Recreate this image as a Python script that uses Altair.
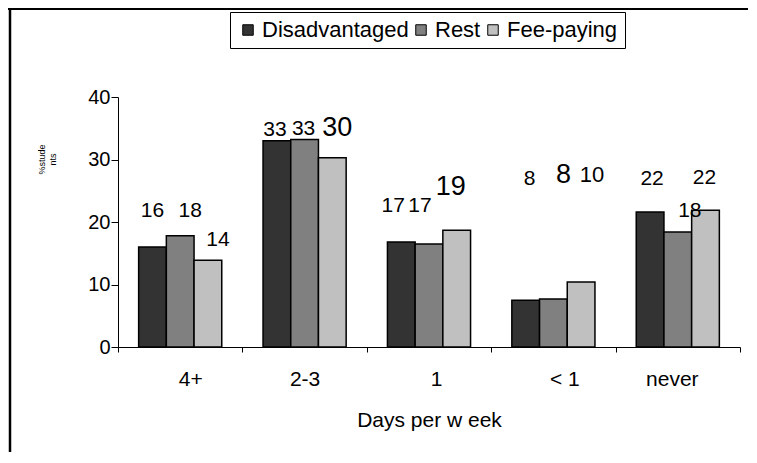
import altair as alt
import pandas as pd

# ---- data ----
categories = ["4+", "2-3", "1", "< 1", "never"]
series = ["Disadvantaged", "Rest", "Fee-paying"]
disadvantaged = [16.0, 33.0, 16.8, 7.5, 21.6]
rest = [17.8, 33.2, 16.5, 7.7, 18.4]
fee_paying = [13.9, 30.3, 18.7, 10.4, 21.9]
y_ticks = [0, 10, 20, 30, 40]

colors = ["#333333", "#808080", "#c0c0c0"]
FONT = "Liberation Sans"

# label placement style (dx, dy in px relative to bar top; font size)
LABEL_STYLE = {
    ("4+", "Disadvantaged"): (0, -36, 21),
    ("4+", "Rest"): (10, -25, 21),
    ("4+", "Fee-paying"): (10, -20, 21),
    ("2-3", "Disadvantaged"): (-2, -11, 21),
    ("2-3", "Rest"): (-1, -11, 21),
    ("2-3", "Fee-paying"): (5, -30, 27),
    ("1", "Disadvantaged"): (-8, -36, 21),
    ("1", "Rest"): (-9, -38, 21),
    ("1", "Fee-paying"): (-6, -43, 27),
    ("< 1", "Disadvantaged"): (4, -121, 21),
    ("< 1", "Rest"): (10, -124, 27),
    ("< 1", "Fee-paying"): (11, -107, 22),
    ("never", "Disadvantaged"): (2, -33, 21),
    ("never", "Rest"): (12, -21, 21),
    ("never", "Fee-paying"): (-1, -32, 21),
}
X_LABEL_SHIFT = {"4+": 10, "2-3": 0, "1": 7, "< 1": 11, "never": -6}

rows = []
for s, vals in zip(series, [disadvantaged, rest, fee_paying]):
    for c, v in zip(categories, vals):
        dx, dy, fs = LABEL_STYLE[(c, s)]
        rows.append({"cat": c, "series": s, "value": v, "ndx": dx, "ndy": dy, "fs": fs})
df = pd.DataFrame(rows)

x_enc = alt.X(
    "cat:N",
    sort=categories,
    scale=alt.Scale(paddingInner=0, paddingOuter=0),
    axis=alt.Axis(
        title="Days per w eek",
        titleFont=FONT,
        titleFontSize=21,
        titleFontWeight="normal",
        titleColor="black",
        titleBaseline="top",
        titleY=62,
        labelAngle=0,
        labelFont=FONT,
        labelFontSize=21,
        labelColor="black",
        labelPadding=16,
        labelOffset={
            "condition": [
                {"test": f"datum.value === '{c}'", "value": v}
                for c, v in X_LABEL_SHIFT.items()
            ],
            "value": 0,
        },
        tickBand="extent",
        tickSize=5,
        tickColor="black",
        domainColor="black",
    ),
)
xoff_enc = alt.XOffset(
    "series:N", sort=series, scale=alt.Scale(paddingInner=0, paddingOuter=0.745)
)
y_enc = alt.Y(
    "value:Q",
    scale=alt.Scale(domain=[0, 40], nice=False),
    axis=alt.Axis(
        values=y_ticks,
        grid=False,
        tickSize=7,
        tickColor="black",
        domainColor="black",
        labelFont=FONT,
        labelFontSize=20,
        labelColor="black",
        labelPadding=1,
        title=["%stude", "nts"],
        titleFont=FONT,
        titleFontSize=9,
        titleFontWeight="normal",
        titleColor="black",
        titleAngle=-90,
        titleAlign="center",
        titleBaseline="middle",
        titleX=-77,
        titleY=62,
    ),
)

bars = alt.Chart(df).mark_bar(stroke="black", strokeWidth=1.5).encode(
    x=x_enc,
    xOffset=xoff_enc,
    y=y_enc,
    color=alt.Color(
        "series:N",
        sort=series,
        scale=alt.Scale(domain=series, range=colors),
        legend=alt.Legend(
            title=None,
            orient="none",
            legendX=112,
            legendY=-85,
            direction="horizontal",
            strokeColor="black",
            fillColor="white",
            padding=7,
            labelFont=FONT,
            labelFontSize=22,
            labelColor="black",
            labelOffset=3,
            columnPadding=1,
            symbolType="square",
            symbolSize=110,
            symbolStrokeColor="black",
            symbolStrokeWidth=1,
            symbolOpacity=1,
            labelExpr="datum.label === 'Fee-paying' ? '\u00a0\u00a0\u00a0\u00a0Fee-paying' : datum.label",
        ),
    ),
)

labels = alt.Chart(df).mark_text(
    baseline="middle",
    align="center",
    font=FONT,
    color="black",
    dx=alt.ExprRef("datum.ndx"),
    dy=alt.ExprRef("datum.ndy"),
).encode(
    x=x_enc,
    xOffset=xoff_enc,
    y=y_enc,
    text=alt.Text("value:Q", format=".0f"),
    size=alt.Size("fs:Q", scale=None, legend=None),
)

frame_df = pd.DataFrame({"k": [0]})
left_line = alt.Chart(frame_df).mark_rule(color="black", strokeWidth=2.5).encode(
    x=alt.value(-108), y=alt.value(-95), y2=alt.value(360)
)
top_line = alt.Chart(frame_df).mark_rule(color="black", strokeWidth=2).encode(
    x=alt.value(-110), x2=alt.value(640), y=alt.value(-88)
)

chart = (
    alt.layer(bars, labels, left_line, top_line)
    .properties(
        width=622,
        height=250,
        padding={"left": 110, "top": 89, "right": 8, "bottom": 105},
        autosize=alt.AutoSizeParams(type="none"),
        background="white",
    )
    .configure_view(stroke=None)
)

chart.save("out.html", embed_options={"renderer": "svg", "actions": False})
